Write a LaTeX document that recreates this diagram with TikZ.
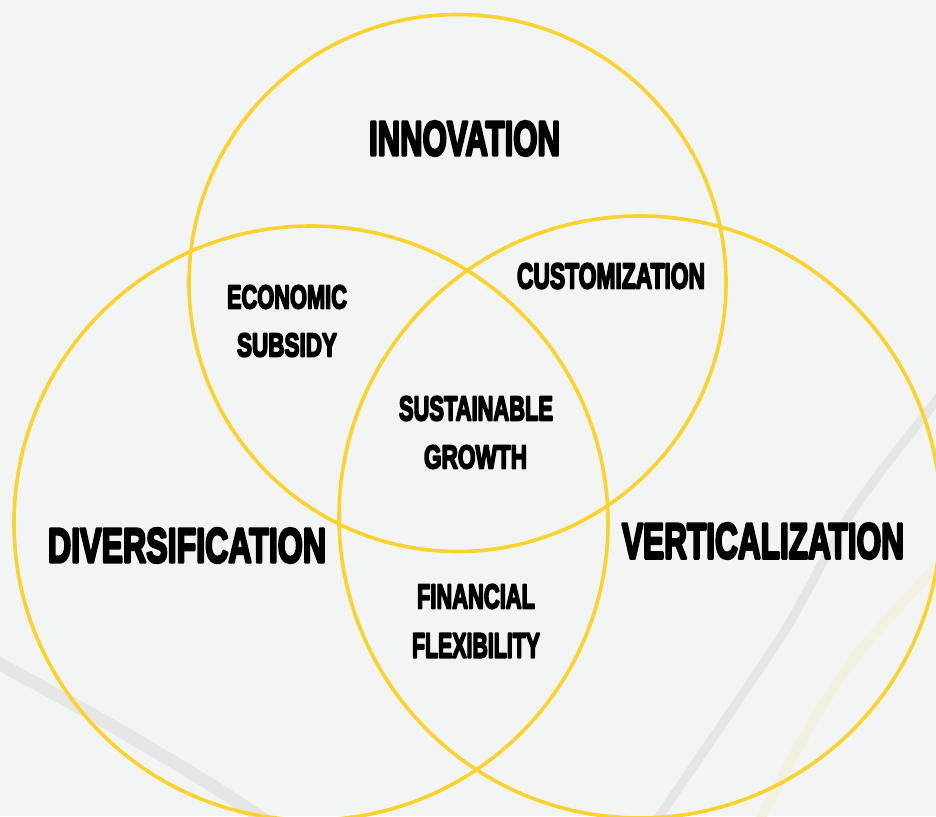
\documentclass[tikz,border=0pt]{standalone}
\usepackage{fontspec}
\usepackage{graphicx}
\newfontfamily\vf{Liberation Sans}[UprightFont={* Bold}, UprightFeatures={FakeBold=6}]
\definecolor{bgc}{RGB}{243,245,244}
\definecolor{ringc}{RGB}{252,210,45}
\definecolor{bandgrey}{RGB}{229,231,230}
\definecolor{bandyel}{RGB}{243,242,224}
\tikzset{
  ring/.style={draw=ringc, line width=3.6pt},
  band/.style={line width=#1, line cap=butt},
  lbl/.style={inner sep=0pt, outer sep=0pt, text=black, line join=round},
}
\newcommand{\fitword}[3]{\resizebox{#1pt}{#2pt}{\vf #3}}
\begin{document}
\begin{tikzpicture}[x=1pt,y=-1pt]
\fill[bgc] (0,0) rectangle (936,816);
\useasboundingbox (0,0) rectangle (936,816);
% decorative background bands
\draw[band=13pt, bandgrey] plot[smooth] coordinates {(-20,652) (0,664) (100,719) (200,778) (280,830)};
\draw[band=9pt, bandgrey] plot[smooth] coordinates {(955,378) (936,401) (853,510) (787,627) (720,727) (650,830)};
\draw[band=10pt, bandyel] plot[smooth] coordinates {(955,548) (936,567) (855,657) (805,735) (755,830)};
% circles
\draw[ring] (457.5,283) circle[radius=268.5pt];
\draw[ring] (311,523) circle[radius=297pt];
\draw[ring] (640,517) circle[radius=301pt];
% labels
\node[lbl] (innov) at (464.5,138.5) {\fitword{191}{34}{INNOVATION}};
\node[lbl] (custom) at (611,276) {\fitword{188}{25}{CUSTOMIZATION}};
\node[lbl] (econ) at (287,297) {\fitword{120}{23}{ECONOMIC}};
\node[lbl] (subs) at (287,345) {\fitword{100}{23}{SUBSIDY}};
\node[lbl] (divers) at (187,545.5) {\fitword{278}{34}{DIVERSIFICATION}};
\node[lbl] (vert) at (763,541) {\fitword{282}{35}{VERTICALIZATION}};
\node[lbl] (sust) at (476,408.5) {\fitword{154}{24}{SUSTAINABLE}};
\node[lbl] (grow) at (475.5,457) {\fitword{103}{23}{GROWTH}};
\node[lbl] (fin) at (476,596.5) {\fitword{118}{24}{FINANCIAL}};
\node[lbl] (flex) at (476,645.5) {\fitword{128}{24}{FLEXIBILITY}};
\end{tikzpicture}
\end{document}
